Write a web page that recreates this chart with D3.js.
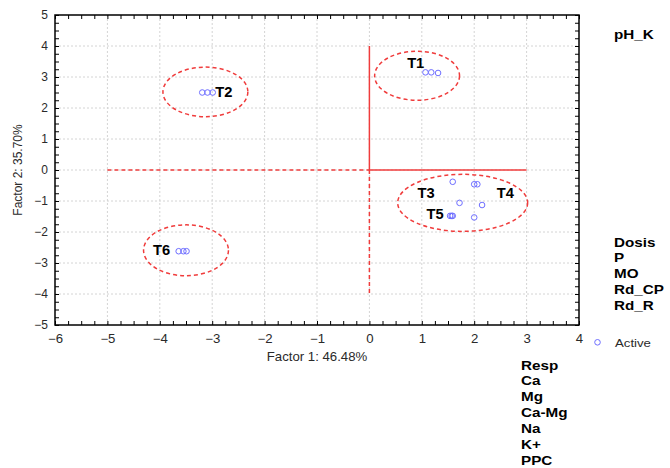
<!DOCTYPE html>
<html>
<head>
<meta charset="utf-8">
<script src="https://cdn.jsdelivr.net/npm/d3@7"></script>
<style>
  html, body { margin: 0; padding: 0; background: #fff; }
  svg { display: block; }
</style>
</head>
<body>
<svg id="chart" width="670" height="468"></svg>
<script>
// Factor scores of the samples (Factor 1, Factor 2), grouped by treatment
const groupNames = ["T1", "T2", "T3", "T4", "T5", "T6"];
const t1Scores = [[1.07, 3.15], [1.18, 3.15], [1.31, 3.13]];
const t2Scores = [[-3.19, 2.50], [-3.09, 2.50], [-2.99, 2.50]];
const t3Scores = [[1.59, -0.38], [2.00, -0.46], [1.72, -1.06]];
const t4Scores = [[2.06, -0.46], [2.15, -1.13], [2.00, -1.53]];
const t5Scores = [[1.54, -1.48], [1.59, -1.48], [1.57, -1.48]];
const t6Scores = [[-3.64, -2.62], [-3.55, -2.62], [-3.49, -2.62]];

// Label anchors (data units) for the treatment names
const groupLabelX = [0.72, -2.94, 0.92, 2.43, 1.09, -4.13];
const groupLabelY = [3.29, 2.37, -0.91, -0.91, -1.58, -2.75];

// Grouping ellipses: centre and radii in factor units
const ellipseCx = [0.91, -3.13, 1.78, -3.50];
const ellipseCy = [3.04, 2.52, -1.06, -2.59];
const ellipseRx = [0.81, 0.81, 1.24, 0.81];
const ellipseRy = [0.79, 0.80, 0.92, 0.82];

// Reference axes drawn through the origin (solid and dashed parts)
const solidSegments = [[[0, 0], [3, 0]], [[0, 0], [0, 4]]];
const dashedSegments = [[[-5, 0], [0, 0]], [[0, 0], [0, -4]]];

// Axis ticks and titles
const xTicks = [-6, -5, -4, -3, -2, -1, 0, 1, 2, 3, 4];
const yTicks = [-5, -4, -3, -2, -1, 0, 1, 2, 3, 4, 5];
const xTitle = "Factor 1: 46.48%";
const yTitle = "Factor 2: 35.70%";

// Variables listed beside the plot
const topVars = ["pH_K"];
const midVars = ["Dosis", "P", "MO", "Rd_CP", "Rd_R"];
const lowVars = ["Resp", "Ca", "Mg", "Ca-Mg", "Na", "K+", "PPC"];
const legendLabel = "Active";

const svg = d3.select("#chart");
const FONT = "'Liberation Sans', Arial, sans-serif";
const RED = "#f03c3c";
const BLUE = "#6e6eff";

const x = d3.scaleLinear().domain([-6, 4]).range([55, 579]);
const y = d3.scaleLinear().domain([-5, 5]).range([325, 15]);

// Gridlines
const grid = svg.append("g");
grid.selectAll("line.gx").data(xTicks.slice(1, -1)).join("line")
  .attr("x1", d => x(d)).attr("x2", d => x(d))
  .attr("y1", y(5)).attr("y2", y(-5))
  .attr("stroke", "#d4d4d4").attr("stroke-dasharray", "2,2");
grid.selectAll("line.gy").data(yTicks.slice(1, -1)).join("line")
  .attr("y1", d => y(d)).attr("y2", d => y(d))
  .attr("x1", x(-6)).attr("x2", x(4))
  .attr("stroke", "#d4d4d4").attr("stroke-dasharray", "2,2");

// Inward ticks on all four sides
const minorX = d3.range(-6, 4.001, 0.25);
const minorY = d3.range(-5, 5.001, 0.25);
function tickAxis(axis, tx) {
  const g = svg.append("g").attr("transform", tx).call(axis);
  g.select(".domain").remove();
  g.selectAll(".tick line").attr("stroke", "#000").attr("stroke-width", 1);
  return g;
}
tickAxis(d3.axisBottom(x).tickValues(minorX).tickSize(-4).tickFormat(""), `translate(0,${y(-5)})`);
tickAxis(d3.axisTop(x).tickValues(minorX).tickSize(-4).tickFormat(""), `translate(0,${y(5)})`);
tickAxis(d3.axisLeft(y).tickValues(minorY).tickSize(-4).tickFormat(""), `translate(${x(-6)},0)`);
tickAxis(d3.axisRight(y).tickValues(minorY).tickSize(-4).tickFormat(""), `translate(${x(4)},0)`);

// Tick labels
const xl = svg.append("g").attr("transform", `translate(0,${y(-5)})`)
  .call(d3.axisBottom(x).tickValues(xTicks).tickSize(0).tickPadding(9).tickFormat(d3.format("d")));
xl.select(".domain").remove();
xl.selectAll("text").attr("font-family", FONT).attr("font-size", 12).attr("fill", "#2a2a2a")
  .attr("transform", "scale(1.1,1)");
const yl = svg.append("g").attr("transform", `translate(${x(-6)},0)`)
  .call(d3.axisLeft(y).tickValues(yTicks).tickSize(0).tickPadding(7).tickFormat(d3.format("d")));
yl.select(".domain").remove();
yl.selectAll("text").attr("font-family", FONT).attr("font-size", 12).attr("fill", "#2a2a2a");

// Frame
svg.append("rect").attr("x", x(-6)).attr("y", y(5))
  .attr("width", x(4) - x(-6)).attr("height", y(-5) - y(5))
  .attr("fill", "none").attr("stroke", "#000").attr("stroke-width", 1.5);

// Axis titles
svg.append("text").attr("transform", `translate(${(x(-6) + x(4)) / 2},361) scale(1.1,1)`)
  .attr("text-anchor", "middle").attr("font-family", FONT).attr("font-size", 12)
  .attr("fill", "#2a2a2a").text(xTitle);
svg.append("text").attr("transform", `translate(22,${(y(5) + y(-5)) / 2}) rotate(-90)`)
  .attr("text-anchor", "middle").attr("font-family", FONT).attr("font-size", 12)
  .attr("fill", "#2a2a2a").text(yTitle);

// Reference lines through the origin
const line = d3.line().x(d => x(d[0])).y(d => y(d[1]));
svg.selectAll("path.solid").data(solidSegments).join("path")
  .attr("d", line).attr("fill", "none").attr("stroke", RED).attr("stroke-width", 1.5);
svg.selectAll("path.dashed").data(dashedSegments).join("path")
  .attr("d", line).attr("fill", "none").attr("stroke", RED).attr("stroke-width", 1.5)
  .attr("stroke-dasharray", "4,3");

// Grouping ellipses
svg.selectAll("ellipse").data(ellipseCx).join("ellipse")
  .attr("cx", (d) => x(d))
  .attr("cy", (d, i) => y(ellipseCy[i]))
  .attr("rx", (d, i) => x(ellipseRx[i]) - x(0))
  .attr("ry", (d, i) => y(0) - y(ellipseRy[i]))
  .attr("fill", "none").attr("stroke", RED).attr("stroke-width", 1.5)
  .attr("stroke-dasharray", "4,3");

// Sample points
const allScores = [t1Scores, t2Scores, t3Scores, t4Scores, t5Scores, t6Scores].flat();
svg.selectAll("circle.pt").data(allScores).join("circle")
  .attr("cx", d => x(d[0])).attr("cy", d => y(d[1])).attr("r", 2.8)
  .attr("fill", "none").attr("stroke", BLUE).attr("stroke-width", 1);

// Treatment labels
svg.selectAll("text.grp").data(groupNames).join("text")
  .attr("transform", (d, i) => `translate(${x(groupLabelX[i])},${y(groupLabelY[i])}) scale(1.05,1)`)
  .attr("font-family", FONT).attr("font-weight", "bold").attr("font-size", 14)
  .attr("fill", "#000").text(d => d);

// Variable lists beside the plot
function varList(names, x0, y0, step) {
  svg.selectAll(null).data(names).join("text")
    .attr("transform", (d, i) => `translate(${x0},${y0 + i * step}) scale(1.22,1)`)
    .attr("font-family", FONT).attr("font-weight", "bold").attr("font-size", 12.5)
    .attr("fill", "#000").text(d => d);
}
varList(topVars, 614, 38.5, 16);
varList(midVars, 614, 246.5, 15.8);
varList(lowVars, 521, 369.5, 15.9);

// Legend
svg.append("circle").attr("cx", 597.5).attr("cy", 342.3).attr("r", 2.8)
  .attr("fill", "none").attr("stroke", BLUE).attr("stroke-width", 1);
svg.append("text").attr("transform", "translate(615,347) scale(1.15,1)")
  .attr("font-family", FONT).attr("font-size", 11.5).attr("fill", "#2a2a2a").text(legendLabel);
</script>
</body>
</html>
